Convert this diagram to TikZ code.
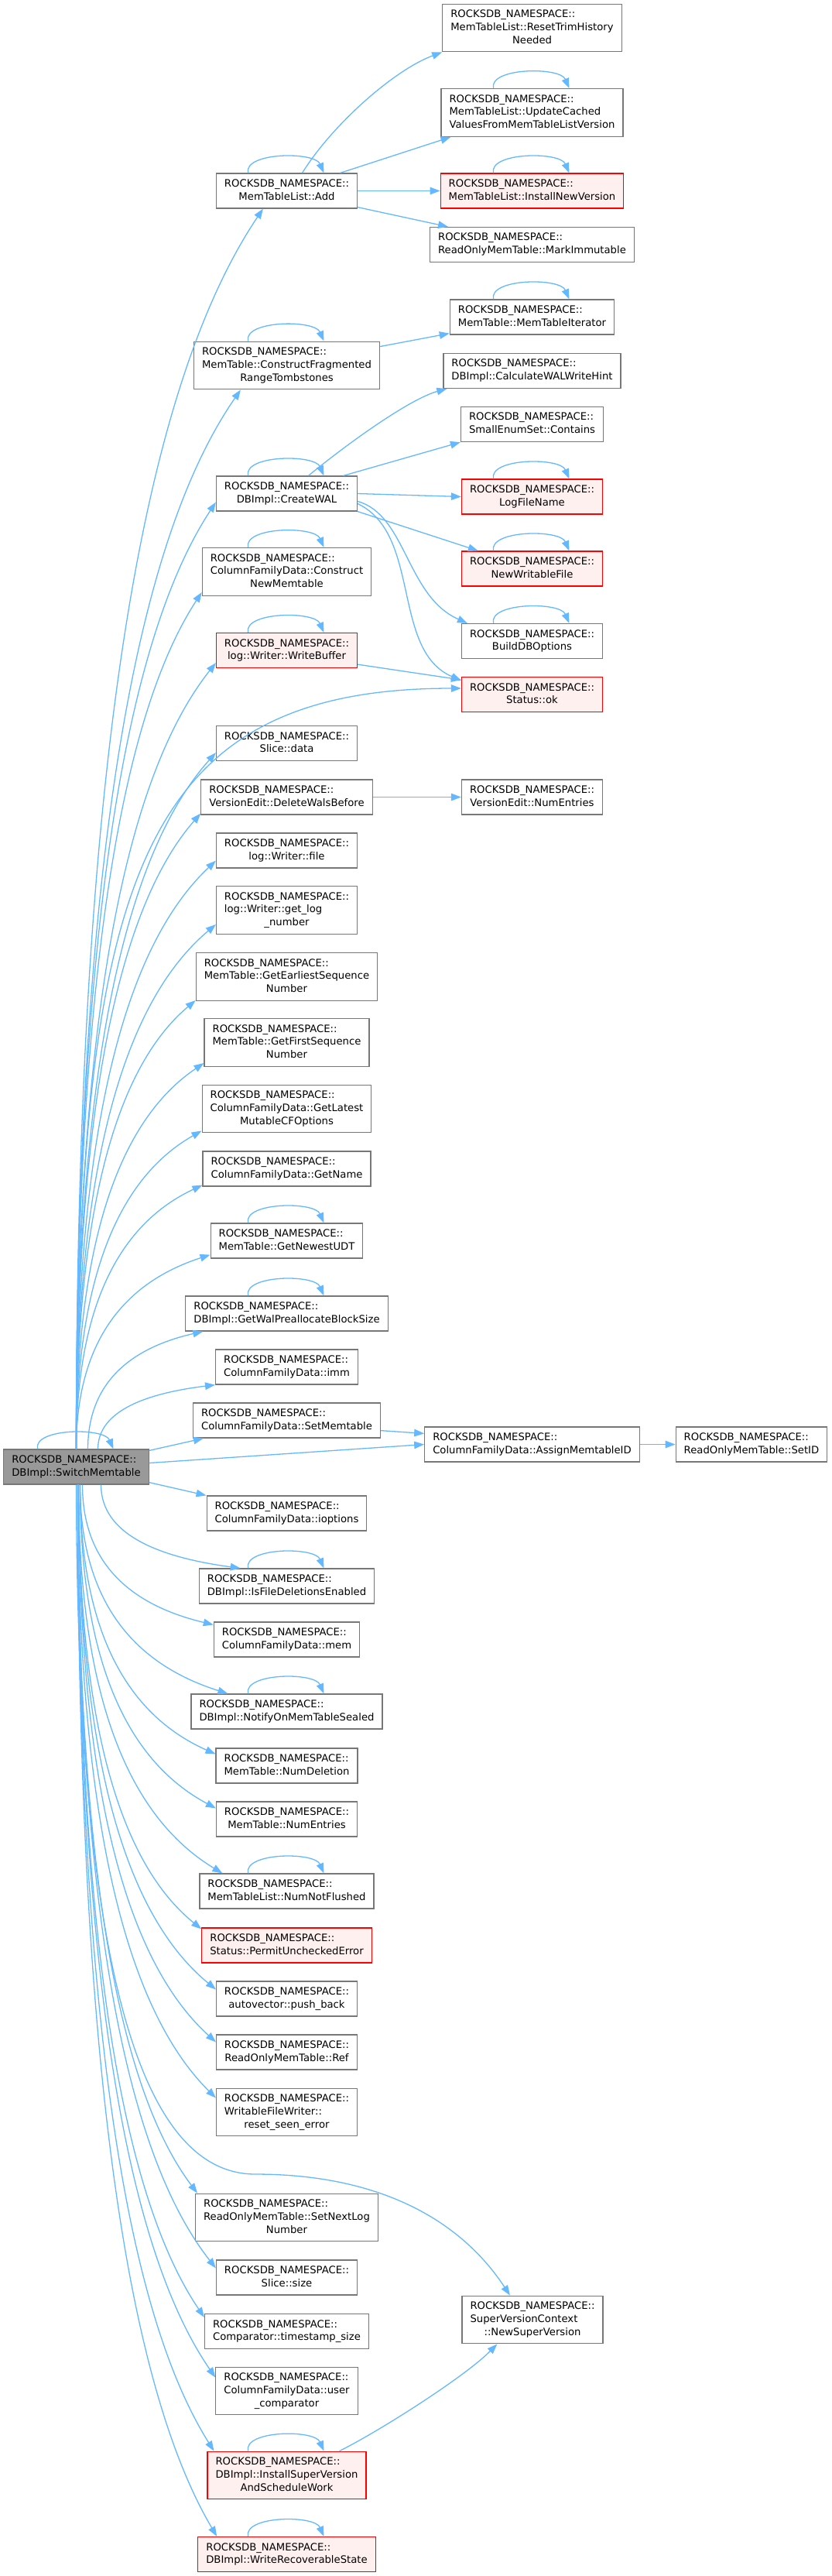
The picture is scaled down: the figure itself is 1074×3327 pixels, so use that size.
\documentclass[tikz,border=0pt]{standalone}
\usepackage{fontspec}
\setmainfont{DejaVu Sans}
\usetikzlibrary{arrows.meta,calc}
\definecolor{edgeblue}{HTML}{63B8FF}
\definecolor{boxgray}{HTML}{777777}
\definecolor{maingray}{HTML}{999999}
\definecolor{errfill}{HTML}{FFF0F0}
\newcommand{\fnlast}[1]{\multicolumn{1}{@{}c@{}}{#1}}
\newcommand{\fn}[1]{\begin{tabular}{@{}l@{}}ROCKSDB\_NAMESPACE::\\\fnlast{#1}\end{tabular}}
\newcommand{\fnn}[2]{\begin{tabular}{@{}l@{}}ROCKSDB\_NAMESPACE::\\#1\\\fnlast{#2}\end{tabular}}
\tikzset{
  fnbox/.style={draw=boxgray,fill=white,line width=1.2pt,inner xsep=10.5pt,inner ysep=5.8pt,
    font=\fontsize{13.2}{16.7}\selectfont},
  mainbox/.style={fnbox,fill=maingray},
  errbox/.style={fnbox,draw=red,fill=errfill},
  edge/.style={draw=edgeblue,line width=1.3pt,-{Triangle[length=13pt,width=9.5pt]}},
}
\begin{document}
\begin{tikzpicture}[x=1pt,y=-1pt]
  \useasboundingbox (0,0) rectangle (1074,3327);
  % caller
  \node[mainbox] (main) at (98.5,1894.5) {\fn{DBImpl::SwitchMemtable}};
  % callees
  \node[fnbox] (add) at (370.5,246.5) {\fn{MemTableList::Add}};
  \node[fnbox] (cfrag) at (370.5,472) {\fnn{MemTable::ConstructFragmented}{RangeTombstones}};
  \node[fnbox] (createwal) at (370.5,637.5) {\fn{DBImpl::CreateWAL}};
  \node[fnbox] (cnewmem) at (370.5,738.5) {\fnn{ColumnFamilyData::Construct}{NewMemtable}};
  \node[errbox] (writebuf) at (370.5,840) {\fn{log::Writer::WriteBuffer}};
  \node[fnbox] (slicedata) at (370.5,960) {\fn{Slice::data}};
  \node[fnbox] (delwals) at (370.5,1029.5) {\fn{VersionEdit::DeleteWalsBefore}};
  \node[fnbox] (wfile) at (370.5,1098.5) {\fn{log::Writer::file}};
  \node[fnbox] (getlog) at (370.5,1175.5) {\fnn{log::Writer::get\_log}{\_number}};
  \node[fnbox] (earliest) at (370.5,1261.5) {\fnn{MemTable::GetEarliestSequence}{Number}};
  \node[fnbox] (firstseq) at (370.5,1346.5) {\fnn{MemTable::GetFirstSequence}{Number}};
  \node[fnbox] (latestcf) at (370.5,1432) {\fnn{ColumnFamilyData::GetLatest}{MutableCFOptions}};
  \node[fnbox] (getname) at (370.5,1509.5) {\fn{ColumnFamilyData::GetName}};
  \node[fnbox] (newestudt) at (370.5,1602.5) {\fn{MemTable::GetNewestUDT}};
  \node[fnbox] (walprealloc) at (370.5,1696.5) {\fn{DBImpl::GetWalPreallocateBlockSize}};
  \node[fnbox] (imm) at (370.5,1765.5) {\fn{ColumnFamilyData::imm}};
  \node[fnbox] (setmem) at (370.5,1834.5) {\fn{ColumnFamilyData::SetMemtable}};
  \node[fnbox] (ioptions) at (370.5,1954.5) {\fn{ColumnFamilyData::ioptions}};
  \node[fnbox] (filedel) at (370.5,2048.5) {\fn{DBImpl::IsFileDeletionsEnabled}};
  \node[fnbox] (mem) at (370.5,2117.5) {\fn{ColumnFamilyData::mem}};
  \node[fnbox] (notify) at (370.5,2210.5) {\fn{DBImpl::NotifyOnMemTableSealed}};
  \node[fnbox] (numdel) at (370.5,2280.5) {\fn{MemTable::NumDeletion}};
  \node[fnbox] (nument) at (370.5,2349.5) {\fn{MemTable::NumEntries}};
  \node[fnbox] (notflushed) at (370.5,2442.5) {\fn{MemTableList::NumNotFlushed}};
  \node[errbox] (permit) at (370.5,2512.5) {\fn{Status::PermitUncheckedError}};
  \node[fnbox] (pushback) at (370.5,2581.5) {\fn{autovector::push\_back}};
  \node[fnbox] (ref) at (370.5,2650.5) {\fn{ReadOnlyMemTable::Ref}};
  \node[fnbox] (reseterr) at (370.5,2728) {\fnn{WritableFileWriter::}{reset\_seen\_error}};
  \node[fnbox] (setnextlog) at (370.5,2864) {\fnn{ReadOnlyMemTable::SetNextLog}{Number}};
  \node[fnbox] (slicesize) at (370.5,2941.5) {\fn{Slice::size}};
  \node[fnbox] (tssize) at (370.5,3011) {\fn{Comparator::timestamp\_size}};
  \node[fnbox] (usercmp) at (370.5,3088) {\fnn{ColumnFamilyData::user}{\_comparator}};
  \node[errbox] (installsv) at (370.5,3197) {\fnn{DBImpl::InstallSuperVersion}{AndScheduleWork}};
  \node[errbox] (writerec) at (370.5,3299) {\fn{DBImpl::WriteRecoverableState}};
  % second level
  \node[fnbox] (resettrim) at (687.5,36) {\fnn{MemTableList::ResetTrimHistory}{Needed}};
  \node[fnbox] (updcached) at (687.5,145.5) {\fnn{MemTableList::UpdateCached}{ValuesFromMemTableListVersion}};
  \node[errbox] (installnv) at (687.5,246.5) {\fn{MemTableList::InstallNewVersion}};
  \node[fnbox] (markimm) at (687.5,316) {\fn{ReadOnlyMemTable::MarkImmutable}};
  \node[fnbox] (memiter) at (687.5,409.5) {\fn{MemTable::MemTableIterator}};
  \node[fnbox] (calcwal) at (687.5,479) {\fn{DBImpl::CalculateWALWriteHint}};
  \node[fnbox] (smallenum) at (687.5,548) {\fn{SmallEnumSet::Contains}};
  \node[errbox] (logfile) at (687.5,641.5) {\fn{LogFileName}};
  \node[errbox] (newwf) at (687.5,734.5) {\fn{NewWritableFile}};
  \node[fnbox] (builddb) at (687.5,828) {\fn{BuildDBOptions}};
  \node[errbox] (statusok) at (687.5,897) {\fn{Status::ok}};
  \node[fnbox] (vnument) at (687.5,1029.5) {\fn{VersionEdit::NumEntries}};
  \node[fnbox] (assignid) at (687.5,1865.5) {\fn{ColumnFamilyData::AssignMemtableID}};
  \node[fnbox] (newsv) at (688,2996) {\fnn{SuperVersionContext}{::NewSuperVersion}};
  \node[fnbox] (setid) at (971,1865.5) {\fn{ReadOnlyMemTable::SetID}};

  % calls from the caller, fanned up and down
  \foreach \s/\t/\a/\dx/\dy/\sx in {
      north/add/south west/61/0/0, north/cfrag/south west/61/0/0,
      north/createwal/south west/0/12/0, north/cnewmem/south west/0/5/0,
      north/writebuf/south west/0/7/0, north/slicedata/south west/0/11/0,
      north/delwals/south west/0/2/0, north/wfile/south west/0/10/0,
      north/getlog/south west/0/13/0, north/earliest/south west/0/1/0,
      north/firstseq/south west/0/5/0, north/latestcf/south west/0/3/0,
      north/getname/south west/0/2/0, north/newestudt/south west/0/5/0,
      north/walprealloc/south west/23/0/15, north/imm/south west/0/0/28,
      south/filedel/north west/54/0/32, south/mem/north west/0/-4/8,
      south/notify/north west/48/0/5, south/numdel/north west/0/-8/5,
      south/nument/north west/0/-9/5, south/notflushed/north west/30/0/3,
      south/permit/north west/0/-2/3, south/pushback/north west/0/-11/3,
      south/ref/north west/0/-10/3, south/reseterr/north west/0/-13/2,
      south/setnextlog/north west/3/0/2, south/slicesize/north west/0/-11/2,
      south/tssize/north west/0/-5/2, south/usercmp/north west/0/-14/2,
      south/installsv/north west/9/0/2, south/writerec/north west/25/0/2} {
    \coordinate (s) at ([xshift=\sx pt]main.\s);
    \coordinate (e) at ([xshift=\dx pt,yshift=\dy pt]\t.\a);
    \coordinate (c1) at ($(s)!0.6!(s|-e)$);
    \coordinate (c2) at ($(e)!0.58!(s|-e)$);
    \coordinate (c3) at ($(e)!0.13!(e|-s)$);
    \draw[edge] (s) .. controls (c1) and (c2|-c3) .. (e);
  }
  \draw[edge] ([yshift=-2pt]main.north east) -- ([xshift=14pt]setmem.south west);
  \draw[edge] ([yshift=3pt]main.south east) -- (ioptions.north west);
  \draw[edge] ([yshift=5pt]main.east) -- (assignid.west);
  \draw[edge] (main.north) .. controls (103,1150) and (170,889) .. ([yshift=8pt]statusok.west);
  \draw[edge] (main.south) .. controls (100,2500) and (170,2808) .. (330,2808)
    .. controls (480,2808) and (590,2860) .. ([xshift=-29pt]newsv.north);

  % calls one level down
  \draw[edge] ([xshift=20pt]add.north) .. controls (430,160) and (510,90) .. (resettrim.south west);
  \draw[edge] ([xshift=69pt]add.north) -- ([xshift=13pt]updcached.south west);
  \draw[edge] (add) -- (installnv);
  \draw[edge] ([yshift=2pt]add.south east) -- ([xshift=24pt]markimm.north west);
  \draw[edge] ([yshift=-7pt]cfrag.north east) -- ([yshift=2pt]memiter.south west);
  \draw[edge] ([xshift=28pt]createwal.north) .. controls (450,572) and (530,515) .. ([xshift=5pt]calcwal.south west);
  \draw[edge] ([xshift=73pt]createwal.north) -- (smallenum.south west);
  \draw[edge] (createwal.east) -- (logfile.west);
  \draw[edge] (createwal.south east) -- ([xshift=22pt]newwf.north west);
  \draw[edge] ([yshift=-10pt]createwal.east) .. controls (525,665) and (525,770) .. ([xshift=8pt]builddb.north west);
  \draw[edge] ([yshift=-13pt]createwal.east) .. controls (545,690) and (505,840) .. ([yshift=-5pt]statusok.north west);
  \draw[edge] ([yshift=5pt]writebuf.south east) -- ([yshift=19pt]statusok.west);
  \draw[edge] (delwals) -- (vnument);
  \draw[edge] ([yshift=10pt]setmem.south east) -- ([yshift=-9pt]assignid.north west);
  \draw[edge] (assignid) -- (setid);
  \draw[edge] ([xshift=-35pt]installsv.north east) .. controls (490,3140) and (600,3070) .. ([xshift=46pt]newsv.south west);

  % recursive calls
  \foreach \n in {main,add,cfrag,createwal,cnewmem,writebuf,newestudt,walprealloc,filedel,
      notify,notflushed,installsv,writerec,updcached,installnv,memiter,logfile,newwf,builddb}
    \draw[edge] ([xshift=-50pt]\n.north) .. controls ([xshift=-56pt,yshift=27pt]\n.north)
      and ([xshift=36pt,yshift=28pt]\n.north) .. ([xshift=48pt]\n.north);
\end{tikzpicture}
\end{document}
